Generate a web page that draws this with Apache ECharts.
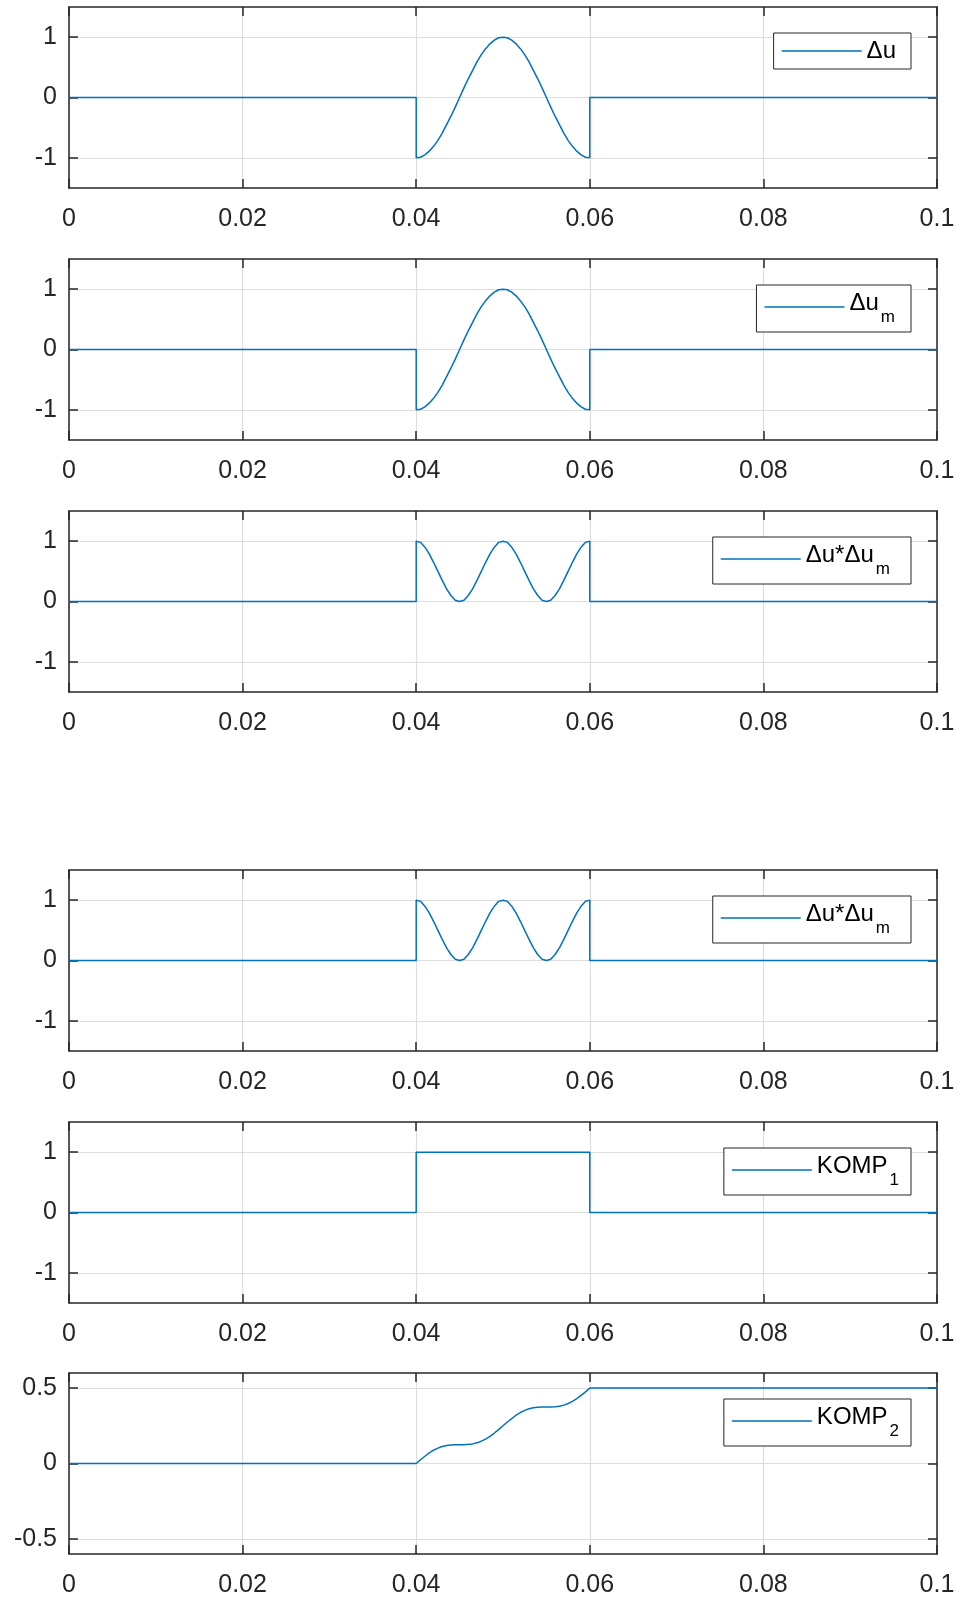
<!DOCTYPE html>
<html><head><meta charset="utf-8">
<script src="https://cdn.jsdelivr.net/npm/echarts@6/dist/echarts.min.js"></script>
<style>html,body{margin:0;padding:0;background:#fff}#c{width:960px;height:1602px}</style>
</head><body><div id="c"></div>
<script>
// time grid (s)
const t = [0, 0.04, 0.04, 0.0405, 0.041, 0.0415, 0.042, 0.0425, 0.043, 0.0435, 0.044, 0.0445, 0.045,
  0.0455, 0.046, 0.0465, 0.047, 0.0475, 0.048, 0.0485, 0.049, 0.0495, 0.05,
  0.0505, 0.051, 0.0515, 0.052, 0.0525, 0.053, 0.0535, 0.054, 0.0545, 0.055,
  0.0555, 0.056, 0.0565, 0.057, 0.0575, 0.058, 0.0585, 0.059, 0.0595, 0.06, 0.06, 0.1];
// Δu
const du = [0, 0, -1, -0.99, -0.95, -0.89, -0.81, -0.71, -0.59, -0.45, -0.31, -0.16, 0,
  0.16, 0.31, 0.45, 0.59, 0.71, 0.81, 0.89, 0.95, 0.99, 1,
  0.99, 0.95, 0.89, 0.81, 0.71, 0.59, 0.45, 0.31, 0.16, 0,
  -0.16, -0.31, -0.45, -0.59, -0.71, -0.81, -0.89, -0.95, -0.99, -1, 0, 0];
// Δu_m
const dum = [0, 0, -1, -0.99, -0.95, -0.89, -0.81, -0.71, -0.59, -0.45, -0.31, -0.16, 0,
  0.16, 0.31, 0.45, 0.59, 0.71, 0.81, 0.89, 0.95, 0.99, 1,
  0.99, 0.95, 0.89, 0.81, 0.71, 0.59, 0.45, 0.31, 0.16, 0,
  -0.16, -0.31, -0.45, -0.59, -0.71, -0.81, -0.89, -0.95, -0.99, -1, 0, 0];
// Δu*Δu_m (upper panel)
const prodA = [0, 0, 1, 0.98, 0.90, 0.79, 0.65, 0.5, 0.35, 0.21, 0.10, 0.02, 0,
  0.02, 0.10, 0.21, 0.35, 0.5, 0.65, 0.79, 0.90, 0.98, 1,
  0.98, 0.90, 0.79, 0.65, 0.5, 0.35, 0.21, 0.10, 0.02, 0,
  0.02, 0.10, 0.21, 0.35, 0.5, 0.65, 0.79, 0.90, 0.98, 1, 0, 0];
// Δu*Δu_m (lower panel)
const prodB = [0, 0, 1, 0.98, 0.90, 0.79, 0.65, 0.5, 0.35, 0.21, 0.10, 0.02, 0,
  0.02, 0.10, 0.21, 0.35, 0.5, 0.65, 0.79, 0.90, 0.98, 1,
  0.98, 0.90, 0.79, 0.65, 0.5, 0.35, 0.21, 0.10, 0.02, 0,
  0.02, 0.10, 0.21, 0.35, 0.5, 0.65, 0.79, 0.90, 0.98, 1, 0, 0];
// KOMP_1
const komp1 = [0, 0, 1, 1, 1, 1, 1, 1, 1, 1, 1, 1, 1,
  1, 1, 1, 1, 1, 1, 1, 1, 1, 1,
  1, 1, 1, 1, 1, 1, 1, 1, 1, 1,
  1, 1, 1, 1, 1, 1, 1, 1, 1, 1, 0, 0];
// KOMP_2
const komp2 = [0, 0, 0, 0.025, 0.048, 0.070, 0.088, 0.102, 0.113, 0.120, 0.123, 0.125, 0.125,
  0.125, 0.127, 0.130, 0.137, 0.148, 0.162, 0.180, 0.202, 0.225, 0.25,
  0.275, 0.298, 0.320, 0.338, 0.352, 0.363, 0.370, 0.373, 0.375, 0.375,
  0.375, 0.377, 0.380, 0.387, 0.398, 0.412, 0.430, 0.452, 0.475, 0.5, 0.5, 0.5];

const xTickLabels = ['0', '0.02', '0.04', '0.06', '0.08', '0.1'];
const yTicksUnit = [-1, 0, 1];
const yTicksHalf = [-0.5, 0, 0.5];
const legendMain = ['Δu', 'Δu', 'Δu*Δu', 'Δu*Δu', 'KOMP', 'KOMP'];
const legendSub = ['', 'm', 'm', 'm', '1', '2'];

const seriesData = [du, dum, prodA, prodB, komp1, komp2];
const yRange = [[-1.5, 1.5], [-1.5, 1.5], [-1.5, 1.5], [-1.5, 1.5], [-1.5, 1.5], [-0.6, 0.6]];
const yTicks = [yTicksUnit, yTicksUnit, yTicksUnit, yTicksUnit, yTicksUnit, yTicksHalf];

// layout (style)
const tops = [7, 259, 511, 870, 1122, 1373];
const H = 181;
const legendPadRight = [15, 16, 21, 21, 12, 12];
const FONT = 'Liberation Sans, Arial, Helvetica, sans-serif';
const AX = '#262626';
const GRIDC = '#dedede';
const LINEC = '#0072BD';

const grid = [], xAxis = [], yAxis = [], series = [], legend = [];
for (let i = 0; i < 6; i++) {
  grid.push({left: 69, right: 23, top: tops[i], height: H, containLabel: false});
  const axLine = {show: true, onZero: false, lineStyle: {color: AX, width: 1.5}};
  const tick = {show: true, inside: true, length: 9, lineStyle: {color: AX, width: 1.5}};
  xAxis.push({
    type: 'value', gridIndex: i, min: 0, max: 0.1, interval: 0.02, position: 'bottom',
    axisLine: axLine, axisTick: tick,
    axisLabel: {show: true, margin: 19, fontSize: 25, color: AX, fontFamily: FONT,
      formatter: v => xTickLabels[Math.round(v / 0.02)]},
    splitLine: {show: true, lineStyle: {color: GRIDC, width: 1.2}}
  });
  xAxis.push({
    type: 'value', gridIndex: i, min: 0, max: 0.1, interval: 0.02, position: 'top',
    axisLine: axLine, axisTick: tick, axisLabel: {show: false}, splitLine: {show: false}
  });
  yAxis.push({
    type: 'value', gridIndex: i, min: yRange[i][0], max: yRange[i][1], position: 'left',
    axisLine: axLine,
    axisTick: Object.assign({customValues: yTicks[i]}, tick),
    axisLabel: {show: true, customValues: yTicks[i], margin: 12, fontSize: 25, color: AX, fontFamily: FONT,
      formatter: v => String(v)},
    splitLine: {show: true, lineStyle: {color: GRIDC, width: 1.2}}
  });
  yAxis.push({
    type: 'value', gridIndex: i, min: yRange[i][0], max: yRange[i][1], position: 'right',
    axisLine: axLine,
    axisTick: Object.assign({customValues: yTicks[i]}, tick),
    axisLabel: {show: false}, splitLine: {show: false}
  });
  const name = 's' + i;
  series.push({
    name: name, type: 'line', xAxisIndex: 2 * i, yAxisIndex: 2 * i,
    data: t.map((x, k) => [x, seriesData[i][k]]),
    symbol: 'none', showSymbol: false,
    lineStyle: {color: LINEC, width: 1.5}, itemStyle: {color: LINEC},
    animation: false
  });
  const hasSub = legendSub[i] !== '';
  legend.push({
    data: [name], right: 49, top: tops[i] + 26, orient: 'horizontal',
    selectedMode: false,
    icon: 'rect', itemWidth: 80, itemHeight: 1.5,
    padding: [6, legendPadRight[i], 6, 8],
    backgroundColor: '#fff', borderColor: AX, borderWidth: 1, borderRadius: 0,
    formatter: () => hasSub ? '{a|' + legendMain[i] + '}{b|' + legendSub[i] + '}' : '{c|' + legendMain[i] + '}',
    textStyle: {
      fontFamily: FONT, fontSize: 24, color: '#000',
      rich: {
        a: {fontFamily: FONT, fontSize: 24, color: '#000', lineHeight: 32, verticalAlign: 'top'},
        b: {fontFamily: FONT, fontSize: 17, color: '#000', lineHeight: 20, padding: [18, 0, 0, 2], verticalAlign: 'top'},
        c: {fontFamily: FONT, fontSize: 24, color: '#000', lineHeight: 27}
      }
    }
  });
}

const chart = echarts.init(document.getElementById('c'), null, {renderer: 'canvas'});
chart.setOption({
  backgroundColor: '#fff',
  animation: false,
  grid, xAxis, yAxis, series, legend
});
</script>
</body></html>
